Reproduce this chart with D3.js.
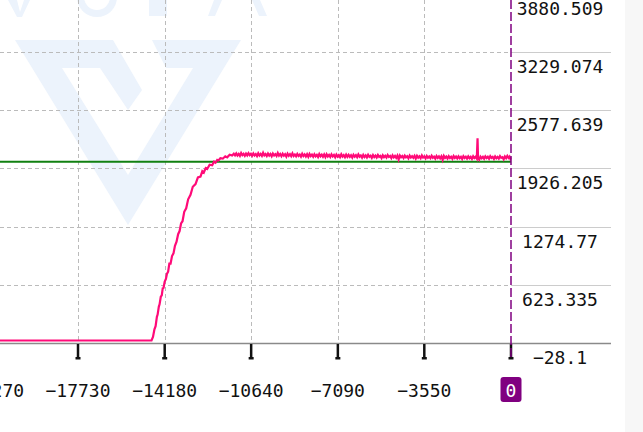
<!DOCTYPE html>
<html>
<head>
<meta charset="utf-8">
<script src="https://cdn.jsdelivr.net/npm/d3@7"></script>
<style>
  html, body { margin: 0; padding: 0; background: #fff; }
  #chart { width: 643px; height: 432px; overflow: hidden; }
  text { font-family: "DejaVu Sans Mono", "Liberation Mono", monospace; }
</style>
</head>
<body>
<div id="chart"></div>
<script>
// Valores del eje X (tiempo relativo) y del eje Y
const xTicks = [-21270, -17730, -14180, -10640, -7090, -3550, 0];
const yTicks = [-28.1, 623.335, 1274.77, 1926.205, 2577.639, 3229.074, 3880.509];
const thresholdValue = 2000;

// Serie principal: tramo plano, subida y meseta [t, valor]
const flatPoints = [[-21500, 0], [-14720, 0]];
const risePoints = [
  [-14660, 40], [-14600, 125], [-14553, 160], [-14500, 265], [-14470, 290], [-14420, 380],
  [-14390, 405], [-14340, 490], [-14300, 505], [-14260, 585], [-14226, 590], [-14180, 660],
  [-14130, 690], [-14090, 745], [-14040, 770], [-13990, 860], [-13940, 860], [-13880, 945],
  [-13820, 975], [-13760, 1060], [-13695, 1105], [-13630, 1190], [-13570, 1225], [-13510, 1310],
  [-13450, 1335], [-13380, 1440], [-13300, 1480], [-13220, 1580], [-13123, 1630], [-13030, 1720],
  [-12918, 1750], [-12820, 1825], [-12714, 1835], [-12640, 1895], [-12580, 1880], [-12500, 1930],
  [-12440, 1920], [-12340, 1968], [-12236, 1962], [-12160, 2002], [-12100, 1990], [-12030, 2022],
  [-11978, 2015], [-11900, 2040], [-11800, 2035], [-11700, 2062], [-11622, 2050], [-11520, 2080],
  [-11418, 2070]
];
const plateauPoints = [
  [-11350, 2090], [-11300, 2072], [-11250, 2094], [-11200, 2070], [-11150, 2088], [-11100, 2066],
  [-11050, 2098], [-11000, 2074], [-10950, 2090], [-10900, 2068], [-10850, 2092], [-10800, 2072],
  [-10750, 2096], [-10700, 2074], [-10650, 2089], [-10600, 2067], [-10550, 2093], [-10500, 2071],
  [-10450, 2087], [-10400, 2064], [-10350, 2095], [-10300, 2070], [-10250, 2088], [-10200, 2066],
  [-10150, 2101], [-10100, 2072], [-10050, 2086], [-10000, 2065], [-9950, 2092], [-9900, 2070],
  [-9850, 2087], [-9800, 2062], [-9750, 2093], [-9700, 2071], [-9650, 2085], [-9600, 2066],
  [-9550, 2098], [-9500, 2069], [-9450, 2088], [-9400, 2063], [-9350, 2090], [-9300, 2068],
  [-9250, 2084], [-9200, 2058], [-9150, 2091], [-9100, 2067], [-9050, 2086], [-9000, 2064],
  [-8950, 2095], [-8900, 2066], [-8850, 2082], [-8800, 2061], [-8750, 2088], [-8700, 2066],
  [-8650, 2081], [-8600, 2058], [-8550, 2090], [-8500, 2065], [-8450, 2083], [-8400, 2060],
  [-8350, 2086], [-8300, 2056], [-8250, 2088], [-8200, 2064], [-8150, 2080], [-8100, 2057],
  [-8050, 2085], [-8000, 2062], [-7950, 2078], [-7900, 2054], [-7850, 2087], [-7800, 2062],
  [-7750, 2079], [-7700, 2056], [-7650, 2082], [-7600, 2053], [-7550, 2084], [-7500, 2060],
  [-7450, 2077], [-7400, 2054], [-7350, 2083], [-7300, 2060], [-7250, 2076], [-7200, 2050],
  [-7150, 2081], [-7100, 2058], [-7050, 2075], [-7000, 2053], [-6950, 2084], [-6900, 2059],
  [-6850, 2074], [-6800, 2051], [-6750, 2080], [-6700, 2056], [-6650, 2078], [-6600, 2055],
  [-6550, 2073], [-6500, 2048], [-6450, 2079], [-6400, 2057], [-6350, 2074], [-6300, 2052],
  [-6250, 2082], [-6200, 2058], [-6150, 2071], [-6100, 2047], [-6050, 2077], [-6000, 2054],
  [-5950, 2072], [-5900, 2050], [-5850, 2079], [-5800, 2057], [-5750, 2069], [-5700, 2044],
  [-5650, 2075], [-5600, 2053], [-5550, 2070], [-5500, 2049], [-5450, 2077], [-5400, 2055],
  [-5350, 2066], [-5300, 2042], [-5250, 2073], [-5200, 2052], [-5150, 2068], [-5100, 2047],
  [-5050, 2076], [-5000, 2054], [-4950, 2065], [-4900, 2041], [-4850, 2072], [-4800, 2050],
  [-4750, 2067], [-4700, 2045], [-4650, 2070], [-4600, 2026], [-4550, 2071], [-4500, 2050],
  [-4450, 2064], [-4400, 2043], [-4350, 2069], [-4300, 2049], [-4250, 2062], [-4200, 2039],
  [-4150, 2070], [-4100, 2048], [-4050, 2063], [-4000, 2044], [-3950, 2066], [-3900, 2037],
  [-3850, 2068], [-3800, 2046], [-3750, 2061], [-3700, 2041], [-3650, 2072], [-3600, 2048],
  [-3550, 2060], [-3500, 2038], [-3450, 2066], [-3400, 2045], [-3350, 2059], [-3300, 2040],
  [-3250, 2068], [-3200, 2046], [-3150, 2058], [-3100, 2035], [-3050, 2064], [-3000, 2043],
  [-2950, 2060], [-2900, 2039], [-2850, 2062], [-2800, 2022], [-2750, 2066], [-2700, 2044],
  [-2650, 2058], [-2600, 2037], [-2550, 2063], [-2500, 2042], [-2450, 2057], [-2400, 2034],
  [-2350, 2065], [-2300, 2044], [-2250, 2058], [-2200, 2037], [-2150, 2061], [-2100, 2041],
  [-2050, 2056], [-2000, 2032], [-1950, 2063], [-1900, 2043], [-1850, 2057], [-1800, 2036],
  [-1750, 2060], [-1700, 2040], [-1650, 2055], [-1600, 2033], [-1550, 2062], [-1500, 2042],
  [-1450, 2056], [-1400, 2036], [-1370, 2263], [-1350, 2046], [-1300, 2024], [-1250, 2058],
  [-1200, 2040], [-1150, 2055], [-1100, 2034], [-1050, 2061], [-1000, 2042], [-950, 2056],
  [-900, 2035], [-850, 2063], [-800, 2043], [-750, 2054], [-700, 2032], [-650, 2060],
  [-600, 2040], [-550, 2055], [-500, 2036], [-450, 2064], [-400, 2044], [-350, 2052],
  [-300, 2028], [-250, 2060], [-200, 2041], [-150, 2066], [-100, 2044], [-60, 2058],
  [-30, 2036], [-10, 2050]
];

document.addEventListener('DOMContentLoaded', () => {
    const width = 643;
    const height = 432;
    const plotRight = 511;
    const axisY = 343;

    const svg = d3.select('#chart').append('svg')
        .attr('width', width)
        .attr('height', height);

    // Escalas
    const xScale = d3.scaleLinear()
        .domain([-20924, 0])
        .range([0, plotRight]);

    const yScale = d3.scaleLinear()
        .domain([-28.1, 3880.509])
        .range([axisY, -6.2]);

    const fmt = d3.format('');

    // Franja gris a la derecha
    svg.append('rect')
        .attr('x', 625).attr('y', 0)
        .attr('width', width - 625).attr('height', height)
        .attr('fill', '#f7f7f7');

    // Marca de agua
    const wm = svg.append('g').attr('fill', '#ecf3fc');
    wm.append('path').attr('d', 'M15,40 L113,40 L142,90 L128,110 L100,68 L62,68 L128,175 L128,225 Z');
    wm.append('path').attr('d', 'M152,40 L241,40 L128,225 L128,175 L193,68 L166,68 Z');
    wm.append('path').attr('d', 'M8,0 L17,0 L20,12 L24,0 L30,0 L22,17 L17,17 Z');
    wm.append('path').attr('d', d3.arc()({ innerRadius: 13, outerRadius: 20, startAngle: Math.PI / 2, endAngle: 3 * Math.PI / 2 }))
        .attr('transform', 'translate(97,-3)');
    wm.append('rect').attr('x', 149).attr('y', 0).attr('width', 18).attr('height', 16);
    wm.append('path').attr('d', 'M208,16 L215,16 L222,0 L214,0 Z');
    wm.append('path').attr('d', 'M252,0 L260,0 L267,16 L259,16 Z');

    // Rejilla horizontal
    yTicks.forEach(v => {
        const y = Math.round(yScale(v)) + 0.5;
        svg.append('line')
            .attr('x1', 0).attr('x2', plotRight)
            .attr('y1', y).attr('y2', y)
            .attr('stroke', '#bbb')
            .attr('stroke-dasharray', '4,3');
        svg.append('line')
            .attr('x1', plotRight).attr('x2', 611)
            .attr('y1', y).attr('y2', y)
            .attr('stroke', '#ccc');
    });

    // Rejilla vertical
    xTicks.filter(v => v !== 0).forEach(v => {
        const x = Math.round(xScale(v)) + 0.5;
        svg.append('line')
            .attr('x1', x).attr('x2', x)
            .attr('y1', 0).attr('y2', axisY)
            .attr('stroke', '#bbb')
            .attr('stroke-dasharray', '4,3');
    });

    // Línea del eje X
    svg.append('line')
        .attr('x1', 0).attr('x2', 611)
        .attr('y1', axisY + 0.5).attr('y2', axisY + 0.5)
        .attr('stroke', '#8a8a8a')
        .attr('stroke-width', 1.5);

    // Línea de umbral
    svg.append('line')
        .attr('x1', 0).attr('x2', plotRight)
        .attr('y1', yScale(thresholdValue)).attr('y2', yScale(thresholdValue))
        .attr('stroke', '#118011')
        .attr('stroke-width', 2);

    // Serie principal
    const line = d3.line()
        .x(d => xScale(d[0]))
        .y(d => yScale(d[1]));

    svg.append('path')
        .datum(flatPoints.concat(risePoints, plateauPoints))
        .attr('d', line)
        .attr('fill', 'none')
        .attr('stroke', '#ff0a78')
        .attr('stroke-width', 2.2)
        .attr('stroke-linejoin', 'miter');

    // Marcas del eje X
    xTicks.forEach(v => {
        const x = xScale(v);
        svg.append('line')
            .attr('x1', x).attr('x2', x)
            .attr('y1', axisY + 1).attr('y2', 359)
            .attr('stroke', '#111')
            .attr('stroke-width', 2.5);
        svg.append('rect')
            .attr('x', x - 2.5).attr('y', 357)
            .attr('width', 5).attr('height', 2.5)
            .attr('fill', '#111');
    });

    // Línea vertical del instante actual
    svg.append('line')
        .attr('x1', xScale(0)).attr('x2', xScale(0))
        .attr('y1', 0).attr('y2', 359)
        .attr('stroke', '#800080')
        .attr('stroke-width', 1.5)
        .attr('stroke-dasharray', '9,3');

    // Etiquetas del eje X
    xTicks.filter(v => v !== 0).forEach(v => {
        svg.append('text')
            .attr('x', xScale(v))
            .attr('y', 397)
            .attr('text-anchor', 'middle')
            .attr('font-size', 18)
            .attr('fill', '#111')
            .text(fmt(v));
    });

    // Etiqueta del cero
    svg.append('rect')
        .attr('x', xScale(0) - 10.5).attr('y', 377)
        .attr('width', 21).attr('height', 25)
        .attr('rx', 3)
        .attr('fill', '#800080');
    svg.append('text')
        .attr('x', xScale(0))
        .attr('y', 397)
        .attr('text-anchor', 'middle')
        .attr('font-size', 18)
        .attr('fill', '#fff')
        .text('0');

    // Etiquetas del eje Y
    yTicks.forEach(v => {
        svg.append('text')
            .attr('x', 560)
            .attr('y', yScale(v) + 21)
            .attr('text-anchor', 'middle')
            .attr('font-size', 18)
            .attr('fill', '#111')
            .text(fmt(v));
    });
});
</script>
</body>
</html>
